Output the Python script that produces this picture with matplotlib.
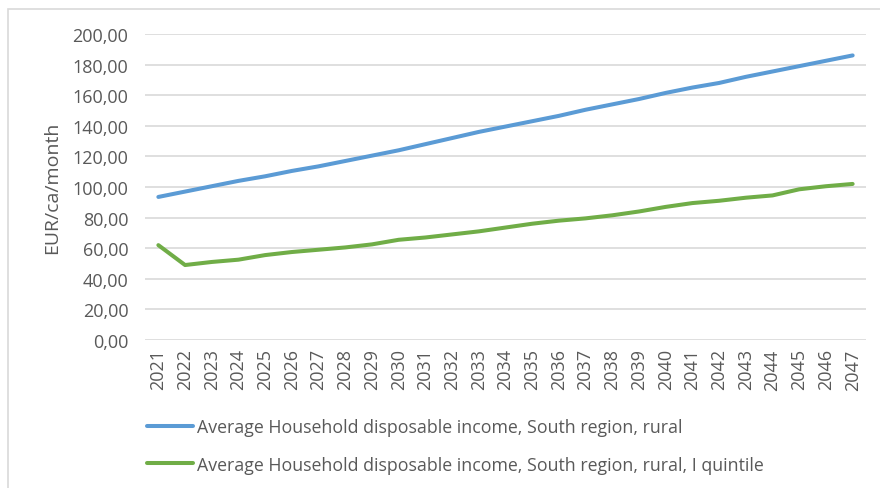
import matplotlib
matplotlib.use("Agg")
import matplotlib.pyplot as plt
from matplotlib.patches import Rectangle
from matplotlib.ticker import FuncFormatter, MultipleLocator

years = [str(y) for y in range(2021, 2048)]
rural_avg = [93.5, 97.0, 100.5, 104.0, 107.0, 110.5, 113.5, 117.0, 120.5, 124.0,
             128.0, 132.0, 136.0, 139.5, 143.0, 146.5, 150.5, 154.0, 157.5, 161.5,
             165.0, 168.0, 172.0, 175.5, 179.0, 182.5, 186.0]
rural_q1 = [62.0, 49.0, 51.0, 52.5, 55.5, 57.5, 59.0, 60.5, 62.5, 65.5,
            67.0, 69.0, 71.0, 73.5, 76.0, 78.0, 79.5, 81.5, 84.0, 87.0,
            89.5, 91.0, 93.0, 94.5, 98.5, 100.5, 102.0]
series_labels = [
    "Average Household disposable income, South region, rural",
    "Average Household disposable income, South region, rural, I quintile",
]
y_label = "EUR/ca/month"

plt.rcParams["font.family"] = ["Open Sans", "DejaVu Sans"]
text_color = "#595959"
grid_color = "#d9d9d9"

W, H = 880, 489
fig = plt.figure(figsize=(W / 100, H / 100), dpi=100)
fig.patch.set_facecolor("white")

# outer chart frame
fig.patches.append(Rectangle((8 / W, -0.1), 1.2, 1 - 10 / H + 0.1,
                             transform=fig.transFigure, fill=False,
                             edgecolor=grid_color, linewidth=1.2))

ax = fig.add_axes([145 / W, 1 - 341 / H, (866 - 145) / W, (341 - 35) / H])
x = range(len(years))
ax.plot(x, rural_avg, color="#5B9BD5", linewidth=2.9, solid_capstyle="round",
        label=series_labels[0])
ax.plot(x, rural_q1, color="#70AD47", linewidth=2.9, solid_capstyle="round",
        label=series_labels[1])

ax.set_xlim(-0.5, len(years) - 0.5)
ax.set_ylim(0, 200)
ax.yaxis.set_major_locator(MultipleLocator(20))
ax.yaxis.set_major_formatter(FuncFormatter(lambda v, p: f"{v:.2f}".replace(".", ",")))
ax.set_xticks(list(x))
ax.set_xticklabels(years, rotation=90)
ax.tick_params(axis="both", length=0, colors=text_color, labelsize=13)
ax.tick_params(axis="x", pad=6)
ax.tick_params(axis="y", pad=12)
ax.grid(axis="y", color=grid_color, linewidth=1.2)
ax.set_axisbelow(True)
for s in ax.spines.values():
    s.set_visible(False)
ax.set_ylabel(y_label, color=text_color, fontsize=14, labelpad=8)

fig.legend(loc="upper left", bbox_to_anchor=(147 / W, 1 - 419 / H),
           frameon=False, fontsize=12.8, labelcolor=text_color,
           handlelength=2.6, handletextpad=0.2, labelspacing=1.1,
           borderaxespad=0, borderpad=0)

fig.savefig("out.png", dpi=100)
